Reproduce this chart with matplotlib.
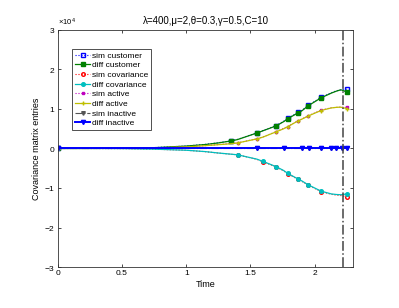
import matplotlib
matplotlib.use("Agg")
import matplotlib.pyplot as plt
from matplotlib import ticker

plt.rcParams['font.family'] = ['Liberation Sans', 'DejaVu Sans']
plt.rcParams['mathtext.fontset'] = 'custom'
plt.rcParams['mathtext.rm'] = 'Liberation Sans'

# --- data ---
title = "λ=400,μ=2,θ=0.3,γ=0.5,C=10"
t_end_line = 2.225

t_grid = [0, 0.25, 0.5, 0.75, 1.0, 1.15, 1.25, 1.35, 1.40, 1.55, 1.60,
          1.70, 1.76, 1.79, 1.87, 1.90, 1.95, 1.96, 2.05, 2.13, 2.17, 2.20, 2.21, 2.25]

sim_customer = [0, 5, 60, 220, 620, 1050, 1450, 1950, 2300, 3950, 4550,
                5800, 6900, 7600, 9100, 9600, 10900, 11100, 12900, 14100, 14600, 14800, 14900, 15000]
diff_customer = [0, 5, 50, 200, 600, 1000, 1400, 1900, 2250, 3900, 4500,
                 5700, 6800, 7500, 9000, 9500, 10800, 11000, 12800, 14000, 14500, 14800, 14800, 14300]

sim_cov = [0, -5, -45, -190, -460, -820, -1170, -1470, -1600, -2750, -3400,
           -4650, -5700, -6400, -7800, -8300, -9300, -9450, -10900, -11600, -11800, -11900, -11950, -12200]
diff_cov = [0, -5, -40, -180, -450, -800, -1150, -1450, -1600, -2700, -3300,
            -4600, -5600, -6300, -7700, -8200, -9200, -9350, -10800, -11500, -11650, -11700, -11700, -11500]

sim_active = [0, 3, 35, 150, 420, 720, 980, 1250, 1420, 2450, 2950,
              4250, 5100, 5550, 7000, 7450, 8250, 8400, 9700, 10300, 10400, 10450, 10450, 10400]
diff_active = [0, 3, 30, 140, 400, 700, 950, 1200, 1400, 2400, 2900,
               4200, 5000, 5500, 6950, 7400, 8200, 8350, 9600, 10250, 10400, 10450, 10400, 10100]

sim_inactive = [0] * 24
diff_inactive = [0] * 24

mk_customer = [0, 7, 9, 11, 13, 14, 16, 18, 23]
mk_cov = [0, 8, 10, 11, 13, 14, 16, 18, 23]
mk_active = [0, 8, 9, 11, 13, 14, 16, 18, 23]
mk_inactive = [0, 9, 12, 15, 17, 18, 19, 20, 22, 23]

fig = plt.figure(figsize=(3.99, 3.08), dpi=100)
ax = fig.add_axes([0.145, 0.133, 0.740, 0.770])

ms = 2.6
ax.plot(t_grid, sim_customer, color='blue', ls=':', lw=0.8, marker='s', ms=ms,
        mfc='none', markevery=mk_customer, label='sim customer')
ax.plot(t_grid, diff_customer, color='green', ls='-', lw=0.9, marker='s', ms=ms,
        markevery=mk_customer, label='diff customer')
ax.plot(t_grid, sim_cov, color='red', ls=':', lw=0.8, marker='o', ms=ms,
        mfc='none', markevery=mk_cov, label='sim covariance')
ax.plot(t_grid, diff_cov, color='#00bfbf', ls='-', lw=0.9, marker='o', ms=ms,
        markevery=mk_cov, label='diff covariance')
ax.plot(t_grid, sim_active, color='#bf00bf', ls=':', lw=0.8, marker='s', ms=1.8,
        markevery=mk_active, label='sim active')
ax.plot(t_grid, diff_active, color='#bfbf00', ls='-', lw=0.9, marker='+', ms=3,
        markevery=mk_active, label='diff active')
ax.plot(t_grid, sim_inactive, color='#555555', ls='-.', lw=0.8, marker='v', ms=ms,
        markevery=mk_inactive, label='sim inactive')
ax.plot(t_grid, diff_inactive, color='blue', ls='-', lw=1.4, marker='v', ms=3.0,
        markevery=mk_inactive, label='diff inactive')

ax.axvline(t_end_line, color='#444444', ls='-.', lw=1.1)

ax.set_xlim(0, 2.3)
ax.set_ylim(-30000, 30000)
ax.set_xticks([0, 0.5, 1, 1.5, 2])
ax.set_xticklabels(['0', '0.5', '1', '1.5', '2'])
ax.set_yticks([-30000, -20000, -10000, 0, 10000, 20000, 30000])
fmt = ticker.ScalarFormatter(useMathText=True)
fmt.set_powerlimits((0, 0))
ax.yaxis.set_major_formatter(fmt)
ax.yaxis.get_offset_text().set_fontsize(5.5)

ax.tick_params(direction='in', labelsize=6, length=2.5, width=0.5,
               top=True, right=True, pad=2)
for sp in ax.spines.values():
    sp.set_linewidth(0.6)
    sp.set_color('#333333')

ax.set_title(title, fontsize=7, pad=4)
ax.set_xlabel('Time', fontsize=6.5, labelpad=2)
ax.set_ylabel('Covariance matrix entries', fontsize=6.5, labelpad=2)

leg = ax.legend(loc='upper left', bbox_to_anchor=(0.047, 0.92), fontsize=6,
                fancybox=False, edgecolor='#333333', framealpha=1,
                labelspacing=0.22, handlelength=1.9, handletextpad=0.2,
                borderpad=0.35, borderaxespad=0)
leg.get_frame().set_linewidth(0.6)

fig.savefig('out.png', dpi=100)
